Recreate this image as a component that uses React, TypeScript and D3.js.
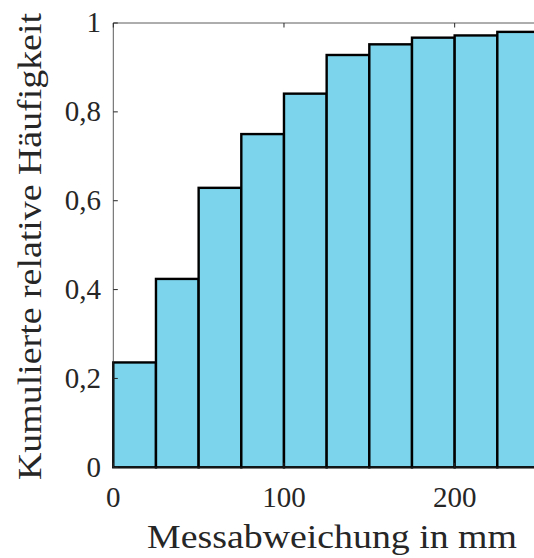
import React from "react";
import * as d3 from "d3";

// Bin edges (mm) and cumulative relative frequency per bin
const binStarts = [0, 25, 50, 75, 100, 125, 150, 175, 200, 225];
const binWidth = 25;
const cumFreq = [0.236, 0.424, 0.629, 0.750, 0.841, 0.928, 0.952, 0.967, 0.972, 0.980];
const xTicks = [0, 100, 200];
const yTicks = [0, 0.2, 0.4, 0.6, 0.8, 1];
const xLabel = "Messabweichung in mm";
const yLabel = "Kumulierte relative Häufigkeit";

const W = 534;
const H = 558;
const left = 113.3;
const right = 540;
const top = 23;
const bottom = 467.3;
const font = "Liberation Serif";
const textColor = "#262626";
const fmt = (v: number) => (v === 0 || v === 1 ? String(v) : v.toFixed(1).replace(".", ","));

export default function App() {
  const x = d3.scaleLinear().domain([0, 250]).range([left, right]);
  const y = d3.scaleLinear().domain([0, 1]).range([bottom, top]);
  const axisColor = "#262626";
  return (
    <svg width={W} height={H} style={{ display: "block", position: "absolute", left: 0, top: 0 }}>
      <rect x={0} y={0} width={W} height={H} fill="#fff" />
      {binStarts.map((b, i) => (
        <rect
          key={i}
          x={x(b)}
          y={y(cumFreq[i])}
          width={x(b + binWidth) - x(b)}
          height={y(0) - y(cumFreq[i])}
          fill="#7bd4eb"
          stroke="#000"
          strokeWidth={2.4}
        />
      ))}
      {/* axes box */}
      <line x1={left} x2={right} y1={top} y2={top} stroke={axisColor} strokeWidth={1} opacity={0.75} />
      <line x1={left} x2={right} y1={bottom} y2={bottom} stroke={axisColor} strokeWidth={1} opacity={0.75} />
      <line x1={left} x2={left} y1={top} y2={bottom} stroke={axisColor} strokeWidth={1} opacity={0.75} />
      {yTicks.map((t) => (
        <g key={t}>
          <line x1={left} x2={left + 4.5} y1={y(t)} y2={y(t)} stroke={axisColor} strokeWidth={1} />
          <text
            x={101}
            y={y(t) + 9.2}
            textAnchor="end"
            fontSize={29}
            fill={textColor}
            style={{ fontFamily: font }}
          >
            {fmt(t)}
          </text>
        </g>
      ))}
      {xTicks.map((t) => (
        <g key={t}>
          <line x1={x(t)} x2={x(t)} y1={bottom} y2={bottom - 4.5} stroke={axisColor} strokeWidth={1} />
          <line x1={x(t)} x2={x(t)} y1={top} y2={top + 4.5} stroke={axisColor} strokeWidth={1} />
          <text
            x={x(t)}
            y={506.5}
            textAnchor="middle"
            fontSize={29}
            fill={textColor}
            style={{ fontFamily: font }}
          >
            {t}
          </text>
        </g>
      ))}
      <text
        x={147}
        y={548.3}
        fontSize={33}
        fill={textColor}
        textLength={370}
        lengthAdjust="spacingAndGlyphs"
        style={{ fontFamily: font }}
      >
        {xLabel}
      </text>
      <text
        transform="translate(40.7, 480) rotate(-90)"
        fontSize={33}
        fill={textColor}
        textLength={467}
        lengthAdjust="spacingAndGlyphs"
        style={{ fontFamily: font }}
      >
        {yLabel}
      </text>
    </svg>
  );
}
